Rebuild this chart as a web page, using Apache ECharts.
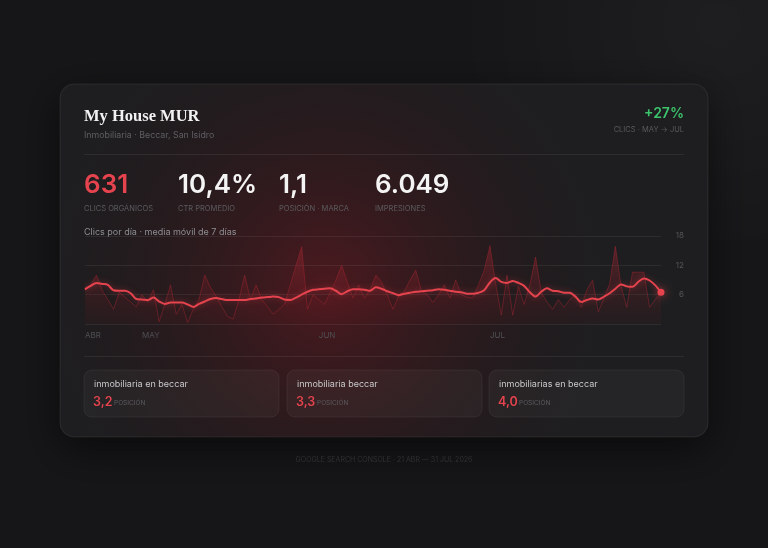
<!DOCTYPE html>
<html><head><meta charset="utf-8">
<script src="https://cdn.jsdelivr.net/npm/echarts@6/dist/echarts.min.js"></script>
<style>html,body{margin:0;padding:0;background:#161618;}#c{width:768px;height:548px;}</style>
</head><body><div id="c"></div>
<script>
// ---- data ----
const startDate = '2026-04-21';
const dayCount = 102;
const clicksDaily = [7.4,8,10,7,5,3,6.5,5.5,4.5,3.5,6,4.5,7,0.5,4,8,2,4,0.3,3,
  5,10,7.5,5.7,3.5,1.5,1,5,10,5,8,5,3.5,2,3,4,8,12,15.8,3,
  6,5,4,6.5,9,12,8.5,5.3,8,5.3,7,10,8.6,6,3,5.7,6.7,9,11,6.7,
  6,4.4,6,8,5.3,9,6,5.5,5.3,8,11,16,8.3,1.8,10,1.8,7.7,4,8,13.7,
  6.5,4.5,3,5,3.4,5,6,3.4,7,9,2.5,5.3,8.2,15.9,7.7,3.4,10.6,10.6,10.6,3.4,
  5,6.5];
const movingAvg7 = [7.1,7.8,8.4,8.2,8.0,6.9,6.8,6.8,6.3,5.1,5.0,4.9,5.4,4.6,4.1,4.4,4.4,4.4,4.0,3.5,
  4.1,4.6,5.1,5.3,5.1,4.9,4.9,4.9,4.9,5.1,5.2,5.4,5.5,5.6,5.5,5.0,4.9,5.4,6.0,6.6,
  7.0,7.1,7.2,7.3,6.8,6.1,6.7,7.1,7.1,7.0,6.8,7.5,7.2,6.7,6.3,5.9,6.2,6.4,6.6,6.7,
  6.8,6.9,7.1,7.0,6.8,6.6,6.5,6.2,6.2,6.4,6.9,8.5,9.4,8.6,8.4,8.8,8.4,7.8,6.5,5.6,
  6.6,7.3,6.8,6.7,6.4,6.4,5.6,4.5,4.9,5.2,5.0,5.6,6.3,7.2,8.1,7.7,7.6,8.6,9.3,8.9,
  7.9,6.5];
const monthTicks = ['ABR','MAY','JUN','JUL'];
const monthTickIndex = [0,10,41,71];
const yMin = 0, yMax = 18, yStep = 6;
const kpiValues = ['631','10,4%','1,1','6.049'];
const kpiLabels = ['CLICS ORGÁNICOS','CTR PROMEDIO','POSICIÓN · MARCA','IMPRESIONES'];
const keywords = ['inmobiliaria en beccar','inmobiliaria beccar','inmobiliarias en beccar'];
const keywordPositions = ['3,2','3,3','4,0'];

// categories (dates)
const categories = [];
{
  const d0 = new Date(startDate + 'T00:00:00Z');
  for (let i = 0; i < dayCount; i++) {
    const d = new Date(d0.getTime() + i * 86400000);
    categories.push(d.toISOString().slice(0, 10));
  }
}

const SANS = 'Inter, "Noto Sans", sans-serif';
const RED = '#e5434d';
function txt(text, x, y, size, color, opts) {
  opts = opts || {};
  return {
    type: 'text', z: opts.z || 50,
    style: {
      text: text, x: x, y: y,
      font: (opts.weight || 'normal') + ' ' + size + 'px ' + (opts.family || SANS),
      fill: color,
      textAlign: opts.align || 'left', align: opts.align || 'left',
      textVerticalAlign: 'middle', verticalAlign: 'middle'
    }
  };
}

const graphics = [];
// subtle background highlight (top-right)
graphics.push({
  type: 'rect', z: -40,
  shape: { x: 440, y: 0, width: 328, height: 240 },
  style: { fill: { type: 'radial', x: 0.85, y: 0.1, r: 1.1,
    colorStops: [{ offset: 0, color: 'rgba(255,255,255,0.035)' }, { offset: 1, color: 'rgba(255,255,255,0)' }] } }
});
// card
graphics.push({
  type: 'rect', z: -30,
  shape: { x: 60, y: 84, width: 648, height: 353, r: 14 },
  style: { fill: '#1e1e20', stroke: 'rgba(255,255,255,0.08)', lineWidth: 1,
    shadowBlur: 40, shadowColor: 'rgba(0,0,0,0.55)', shadowOffsetY: 12 }
});
// glow
graphics.push({
  type: 'rect', z: -29,
  shape: { x: 60, y: 84, width: 648, height: 353, r: 14 },
  style: { fill: { type: 'radial', x: 0.41, y: 0.58, r: 0.8,
    colorStops: [
      { offset: 0, color: 'rgba(110,22,30,0.58)' },
      { offset: 0.45, color: 'rgba(82,18,24,0.3)' },
      { offset: 1, color: 'rgba(40,12,16,0)' }] } }
});
// header
graphics.push(txt('My House MUR', 84, 117, 16.5, '#f2f2f2', { weight: 'bold', family: '"Liberation Serif", "DejaVu Serif", serif' }));
graphics.push(txt('Inmobiliaria · Beccar, San Isidro', 84, 135, 8.8, '#5f5f63'));
graphics.push(txt('+27%', 684, 114, 14, '#3cc46c', { weight: '600', align: 'right' }));
graphics.push(txt('CLICS · MAY → JUL', 684, 130, 7.5, '#5a5a5e', { align: 'right' }));
graphics.push({ type: 'rect', z: -5, shape: { x: 84, y: 154, width: 600, height: 1 }, style: { fill: 'rgba(255,255,255,0.07)' } });
// KPIs
const kpiX = [84, 178, 279, 375];
kpiValues.forEach((v, i) => {
  graphics.push(txt(v, kpiX[i], 185, 26, i === 0 ? RED : '#f4f4f4', { weight: '600' }));
  graphics.push(txt(kpiLabels[i], kpiX[i], 209, 7.5, '#5b5b5f'));
});
graphics.push(txt('Clics por día · media móvil de 7 días', 84, 232, 9, '#8e8e92'));
graphics.push({ type: 'rect', z: -5, shape: { x: 84, y: 356, width: 600, height: 1 }, style: { fill: 'rgba(255,255,255,0.07)' } });
// keyword cards
const cardX = [84, 287, 489];
keywords.forEach((k, i) => {
  graphics.push({
    type: 'rect', z: -4,
    shape: { x: cardX[i], y: 370, width: 195, height: 47, r: 8 },
    style: { fill: 'rgba(255,255,255,0.035)', stroke: 'rgba(255,255,255,0.06)', lineWidth: 1 }
  });
  graphics.push(txt(k, cardX[i] + 10, 384, 9, '#c9c9cc'));
  graphics.push(txt(keywordPositions[i], cardX[i] + 9, 402, 12.5, RED, { weight: '600' }));
  graphics.push(txt('POSICIÓN', cardX[i] + 30, 403, 6.5, '#5b5b5f'));
});
// footer
graphics.push(txt('GOOGLE SEARCH CONSOLE · 21 ABR — 31 JUL 2026', 384, 460, 7, '#303033', { align: 'center' }));

const last = dayCount - 1;
const option = {
  backgroundColor: '#161618',
  animation: false,
  graphic: graphics,
  grid: { left: 85, right: 107, top: 236, bottom: 224 },
  xAxis: {
    type: 'category', data: categories, boundaryGap: false,
    axisLine: { show: false }, axisTick: { show: false },
    axisLabel: {
      interval: (idx) => monthTickIndex.indexOf(idx) >= 0,
      formatter: (val, idx) => { const k = monthTickIndex.indexOf(idx); return k >= 0 ? monthTicks[k] : ''; },
      align: 'left', color: '#4f4f53', fontSize: 8, fontFamily: SANS, margin: 8
    },
    splitLine: { show: false }
  },
  yAxis: {
    type: 'value', position: 'right', min: yMin, max: yMax, interval: yStep,
    axisLine: { show: false }, axisTick: { show: false },
    axisLabel: {
      formatter: (v) => v === 0 ? '' : String(v),
      align: 'right', margin: 23, color: '#55555a', fontSize: 8, fontFamily: SANS
    },
    splitLine: { lineStyle: { color: 'rgba(255,255,255,0.065)', width: 1 } }
  },
  series: [
    {
      type: 'line', data: clicksDaily, symbol: 'none', z: 2,
      lineStyle: { color: 'rgba(170,40,50,0.55)', width: 0.8 },
      areaStyle: { color: { type: 'linear', x: 0, y: 0, x2: 0, y2: 1,
        colorStops: [{ offset: 0, color: 'rgba(180,42,54,0.55)' }, { offset: 1, color: 'rgba(110,22,30,0.1)' }] } }
    },
    {
      type: 'line', data: movingAvg7, smooth: 0.3, z: 3,
      symbol: 'circle', showSymbol: true, showAllSymbol: true,
      symbolSize: (v, p) => p.dataIndex === last ? 7 : 0,
      itemStyle: { color: RED, shadowBlur: 8, shadowColor: 'rgba(229,67,77,0.8)' },
      lineStyle: { color: RED, width: 2, shadowBlur: 6, shadowColor: 'rgba(229,67,77,0.45)' }
    }
  ]
};
const chart = echarts.init(document.getElementById('c'), null, { renderer: 'canvas' });
chart.setOption(option);
</script></body></html>
